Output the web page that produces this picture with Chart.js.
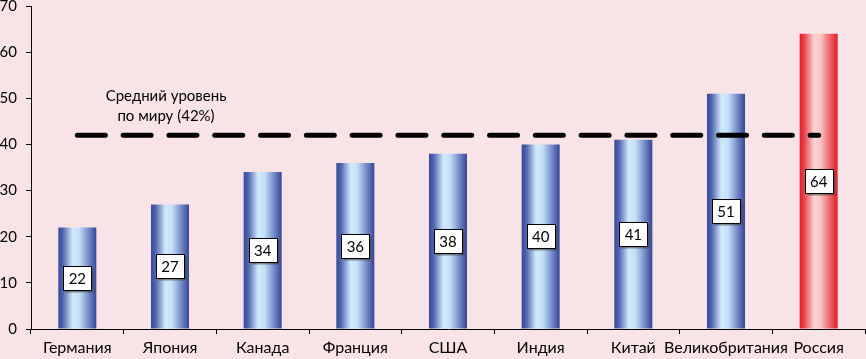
<!DOCTYPE html>
<html>
<head>
<meta charset="utf-8">
<script src="https://cdn.jsdelivr.net/npm/chart.js@4"></script>
<style>
  html, body { margin: 0; padding: 0; background: #f8e4e6; }
  #wrap { width: 866px; height: 359px; }
</style>
</head>
<body>
<div id="wrap"><canvas id="chart" width="866" height="359"></canvas></div>
<script>
const countries = ['Германия', 'Япония', 'Канада', 'Франция', 'США', 'Индия', 'Китай', 'Великобритания', 'Россия'];
const values = [22, 27, 34, 36, 38, 40, 41, 51, 64];
const yTicks = [0, 10, 20, 30, 40, 50, 60, 70];
const averageValue = 42;
const averageText = ['Средний уровень', 'по миру (42%)'];

const FONT = 'Lato, "Noto Sans", sans-serif';

function barGradient(ctx) {
    const chart = ctx.chart;
    const xs = chart.scales.x;
    const isRussia = countries[ctx.dataIndex] === 'Россия';
    const fallback = isRussia ? '#ee7c80' : '#7f93cf';
    if (!xs || ctx.dataIndex === undefined) return fallback;
    const catWidth = xs.width / countries.length;
    const w = catWidth * 0.41;
    const cx = xs.getPixelForValue(ctx.dataIndex);
    if (!isFinite(cx) || !isFinite(w) || w <= 0) return fallback;
    const g = chart.ctx.createLinearGradient(cx - w / 2, 0, cx + w / 2, 0);
    if (isRussia) {
        g.addColorStop(0, '#e01f29');
        g.addColorStop(0.12, '#e8434a');
        g.addColorStop(0.38, '#fbd4d4');
        g.addColorStop(0.55, '#f9c4c5');
        g.addColorStop(0.82, '#ec5a5f');
        g.addColorStop(1, '#e01f29');
    } else {
        g.addColorStop(0, '#364896');
        g.addColorStop(0.12, '#5064b0');
        g.addColorStop(0.38, '#d2e9fb');
        g.addColorStop(0.55, '#c4e0f8');
        g.addColorStop(0.82, '#6d83c4');
        g.addColorStop(1, '#364694');
    }
    return g;
}

const background = {
    id: 'background',
    beforeDraw(chart) {
        const c = chart.ctx;
        c.save();
        c.fillStyle = '#f8e4e6';
        c.fillRect(0, 0, chart.width, chart.height);
        c.restore();
    }
};

const extras = {
    id: 'extras',
    afterDatasetsDraw(chart) {
        const c = chart.ctx;
        const xs = chart.scales.x;
        const ys = chart.scales.y;
        const meta = chart.getDatasetMeta(0);

        // average line
        const yAvg = ys.getPixelForValue(averageValue);
        c.save();
        c.strokeStyle = '#000';
        c.lineWidth = 5;
        c.lineCap = 'round';
        c.setLineDash([28, 17.8]);
        c.beginPath();
        c.moveTo(xs.getPixelForValue(0), yAvg);
        c.lineTo(xs.getPixelForValue(countries.length - 1), yAvg);
        c.stroke();
        c.restore();

        // average text
        c.save();
        c.fillStyle = '#000';
        c.font = '15px ' + FONT;
        c.textAlign = 'center';
        c.textBaseline = 'middle';
        const tx = xs.getPixelForValue(1) - 4;
        c.fillText(averageText[0], tx, ys.getPixelForValue(50.4));
        c.fillText(averageText[1], tx, ys.getPixelForValue(46.1));
        c.restore();

        // value boxes
        c.save();
        c.font = '15px ' + FONT;
        c.textAlign = 'center';
        c.textBaseline = 'middle';
        meta.data.forEach((bar, i) => {
            const cy = (bar.y + bar.base) / 2;
            const bw = 28, bh = 24;
            const x0 = Math.round(bar.x - bw / 2) + 0.5;
            const y0 = Math.round(cy - bh / 2) + 0.5;
            c.fillStyle = 'rgba(60,60,60,0.55)';
            c.fillRect(x0 + 2, y0 + 2, bw, bh);
            c.fillStyle = '#fff';
            c.fillRect(x0, y0, bw, bh);
            c.strokeStyle = '#000';
            c.lineWidth = 1;
            c.strokeRect(x0, y0, bw, bh);
            c.fillStyle = '#000';
            c.fillText(String(values[i]), bar.x, cy + 1);
        });
        c.restore();
    }
};

new Chart(document.getElementById('chart'), {
    type: 'bar',
    data: {
        labels: countries,
        datasets: [{
            data: values,
            backgroundColor: barGradient,
            borderWidth: 0,
            barPercentage: 1,
            categoryPercentage: 0.41
        }]
    },
    options: {
        responsive: false,
        animation: false,
        layout: { padding: { top: 6, right: 1, left: 0, bottom: 0 } },
        plugins: {
            legend: { display: false },
            tooltip: { enabled: false }
        },
        scales: {
            x: {
                grid: {
                    drawOnChartArea: false,
                    drawTicks: true,
                    tickLength: 5,
                    color: '#000'
                },
                border: { display: true, color: '#000', width: 1 },
                ticks: {
                    color: '#000',
                    font: { family: FONT, size: 16 },
                    padding: 4,
                    maxRotation: 0,
                    autoSkip: false
                },
                afterFit(scale) {
                    scale.height = 30;
                    scale.paddingLeft = 0;
                    scale.paddingRight = 0;
                }
            },
            y: {
                min: yTicks[0],
                max: yTicks[yTicks.length - 1],
                afterBuildTicks(scale) { scale.ticks = yTicks.map(v => ({ value: v })); },
                grid: {
                    drawOnChartArea: false,
                    drawTicks: true,
                    tickLength: 5,
                    color: '#000'
                },
                border: { display: true, color: '#000', width: 1 },
                ticks: {
                    color: '#000',
                    font: { family: FONT, size: 15 },
                    padding: 9
                },
                afterFit(scale) {
                    scale.width = 31;
                    scale.paddingTop = 0;
                    scale.paddingBottom = 0;
                }
            }
        }
    },
    plugins: [background, extras]
});
</script>
</body>
</html>
